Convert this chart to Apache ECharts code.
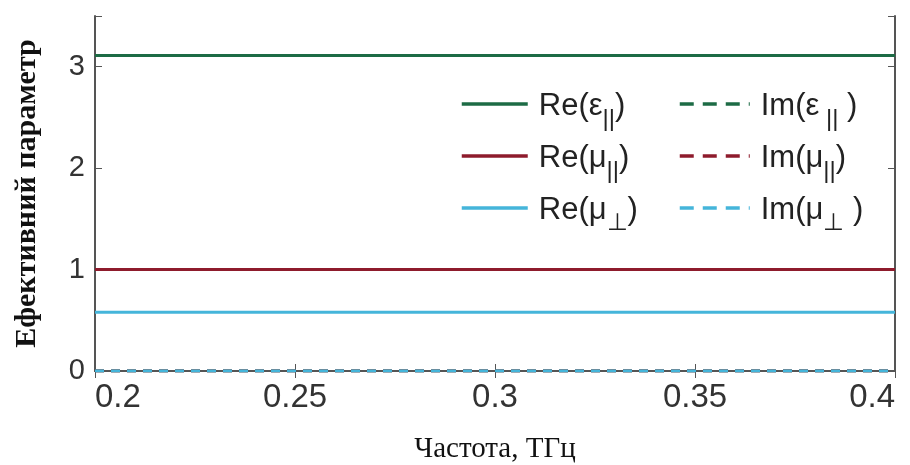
<!DOCTYPE html>
<html>
<head>
<meta charset="utf-8">
<script src="https://cdn.jsdelivr.net/npm/echarts@6/dist/echarts.min.js"></script>
<style>
  html, body { margin: 0; padding: 0; background: #fff; }
  #chart { width: 910px; height: 465px; }
</style>
</head>
<body>
<div id="chart"></div>
<script>
// Frequency samples (THz)
const freq = [0.2, 0.25, 0.3, 0.35, 0.4];

// Effective parameters vs frequency
const reEpsPar = [3.11, 3.11, 3.11, 3.11, 3.11];
const imEpsPar = [0, 0, 0, 0, 0];
const reMuPar  = [1.0, 1.0, 1.0, 1.0, 1.0];
const imMuPar  = [0, 0, 0, 0, 0];
const reMuPerp = [0.58, 0.58, 0.58, 0.58, 0.58];
const imMuPerp = [0, 0, 0, 0, 0];

// Series names and their rich-text legend labels
const names = ['Re(ε∥)', 'Im(ε∥)', 'Re(μ∥)', 'Im(μ∥)', 'Re(μ⊥)', 'Im(μ⊥)'];
const legendRich = {
  'Re(ε∥)': '{m|Re(ε}{s|||}{m|)}',
  'Im(ε∥)': '{m|Im(ε}{s| ||}{m| )}',
  'Re(μ∥)': '{m|Re(μ}{s|||}{m|)}',
  'Im(μ∥)': '{m|Im(μ}{s|||}{m|)}',
  'Re(μ⊥)': '{m|Re(μ}{s|⊥}{m|)}',
  'Im(μ⊥)': '{m|Im(μ}{s|⊥}{m| )}'
};

const GREEN = '#1d6b45';
const RED = '#8e1b2c';
const CYAN = '#45b5da';

function pairs(ys) { return freq.map((x, i) => [x, ys[i]]); }

function lineSeries(name, ys, color, dashed) {
  return {
    name: name,
    type: 'line',
    data: pairs(ys),
    symbol: 'none',
    color: color,
    lineStyle: { color: color, width: 3, type: dashed ? [9, 7] : 'solid' },
    z: dashed ? 3 : 2
  };
}

const legendText = {
  fontFamily: 'Liberation Sans, Arial, sans-serif',
  color: '#222',
  padding: [0, 0, 0, 6],
  rich: {
    m: { fontSize: 31, fontFamily: 'Liberation Sans, Arial, sans-serif', color: '#222', lineHeight: 36, verticalAlign: 'bottom' },
    s: { fontSize: 24, fontFamily: 'Liberation Sans, Arial, sans-serif', color: '#222', lineHeight: 36, verticalAlign: 'bottom', padding: [0, 0, -9, 0] }
  }
};

function makeLegend(items, left, width, dashed) {
  return {
    data: items,
    orient: 'vertical',
    left: left, top: 86,
    itemWidth: width, itemHeight: 14, itemGap: 12,
    itemStyle: { opacity: 0 },
    lineStyle: { width: 3.5, type: dashed ? [14, 9] : 'solid' },
    formatter: n => legendRich[n],
    textStyle: legendText
  };
}

const axisGray = '#555';

const option = {
  backgroundColor: '#fff',
  animation: false,
  grid: { left: 95, right: 15, top: 16, bottom: 94, show: false, outerBoundsMode: 'none', containLabel: false },
  legend: [
    makeLegend(['Re(ε∥)', 'Re(μ∥)', 'Re(μ⊥)'], 455, 66, false),
    makeLegend(['Im(ε∥)', 'Im(μ∥)', 'Im(μ⊥)'], 673, 70, true)
  ],
  xAxis: [
    {
      type: 'value', min: 0.2, max: 0.4, interval: 0.05,
      name: 'Частота, ТГц', nameLocation: 'middle', nameGap: 64,
      nameTextStyle: { fontFamily: 'Liberation Serif, Times New Roman, serif', fontSize: 29, color: '#111' },
      axisLine: { show: true, lineStyle: { color: axisGray, width: 2 } },
      axisTick: { show: true, inside: true, length: 7, lineStyle: { color: axisGray } },
      axisLabel: {
        fontFamily: 'Liberation Sans, Arial, sans-serif', fontSize: 33, color: '#333', margin: 10,
        alignMinLabel: 'left', alignMaxLabel: 'right'
      },
      splitLine: { show: false }
    },
    {
      type: 'value', min: 0.2, max: 0.4, interval: 0.05, position: 'top',
      axisLine: { show: true, lineStyle: { color: axisGray, width: 2 } },
      axisTick: { show: true, inside: true, length: 7, lineStyle: { color: axisGray } },
      axisLabel: { show: false },
      splitLine: { show: false }
    }
  ],
  yAxis: [
    {
      type: 'value', min: 0, max: 3.5, interval: 1,
      name: 'Ефективний параметр', nameLocation: 'middle', nameGap: 53,
      nameTextStyle: { fontFamily: 'Liberation Serif, Times New Roman, serif', fontSize: 30, fontWeight: 'bold', color: '#111' },
      axisLine: { show: true, lineStyle: { color: axisGray, width: 2 } },
      axisTick: { show: true, inside: true, length: 7, lineStyle: { color: axisGray } },
      axisLabel: {
        fontFamily: 'Liberation Sans, Arial, sans-serif', fontSize: 29, color: '#333', margin: 10,
        formatter: v => (Number.isInteger(v) ? String(v) : '')
      },
      splitLine: { show: false }
    },
    {
      type: 'value', min: 0, max: 3.5, interval: 1, position: 'right',
      axisLine: { show: true, lineStyle: { color: axisGray, width: 2 } },
      axisTick: { show: true, inside: true, length: 7, lineStyle: { color: axisGray } },
      axisLabel: { show: false },
      splitLine: { show: false }
    }
  ],
  series: [
    lineSeries(names[0], reEpsPar, GREEN, false),
    lineSeries(names[2], reMuPar, RED, false),
    lineSeries(names[4], reMuPerp, CYAN, false),
    lineSeries(names[1], imEpsPar, GREEN, true),
    lineSeries(names[3], imMuPar, RED, true),
    lineSeries(names[5], imMuPerp, CYAN, true)
  ]
};

const chart = echarts.init(document.getElementById('chart'), null, { renderer: 'canvas' });
chart.setOption(option);
</script>
</body>
</html>
